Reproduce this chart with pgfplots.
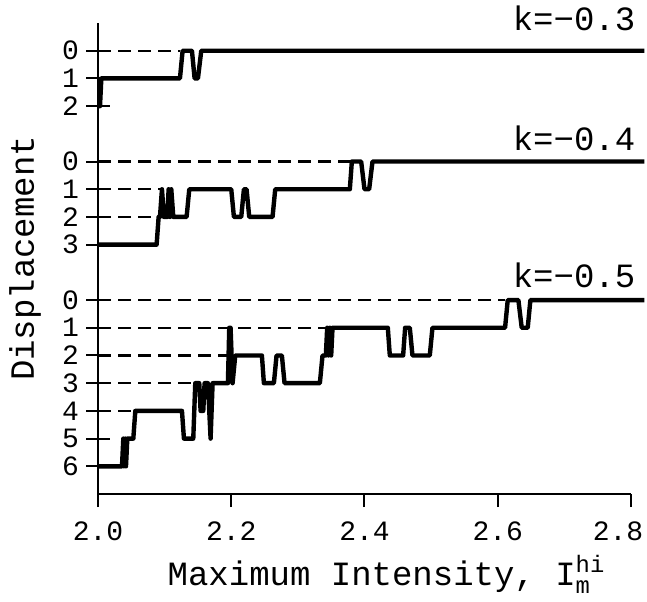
\documentclass[border=0pt]{standalone}
\usepackage{fontspec}
\setmainfont{Liberation Mono}
\usepackage{amsmath}
\usepackage{pgfplots}
\pgfplotsset{compat=1.18}

\begin{document}
\begin{tikzpicture}
\path[use as bounding box] (-49pt,-53.5pt) rectangle (274.5pt,247pt);
\begin{axis}[
  scale only axis, width=266.5pt, height=235.5pt,
  xmin=2, xmax=2.8, ymin=0, ymax=17,
  clip=false,
  axis x line*=bottom, axis y line*=left,
  axis line style={line width=1pt,-},
  xtick={2,2.2,2.4,2.6,2.8}, xticklabels={2.0,2.2,2.4,2.6,\kern-13pt 2.8},
  ytick={1,2,3,4,5,6,7,9,10,11,12,14,15,16},
  yticklabels={6,5,4,3,2,1,0,3,2,1,0,2,1,0},
  tick align=center, major tick length=12pt,
  tick style={line width=1pt, black},
  xtick style={/pgfplots/major tick length=6.5pt, yshift=-3.25pt},
  ticklabel style={font=\fontsize{14pt}{14pt}\selectfont},
  xticklabel style={anchor=base, yshift=-17pt},
  xlabel={Maximum Intensity, I$^{\text{hi}}_{\text{m}}$},
  ylabel={Displacement},
  every axis x label/.style={at={(axis description cs:0.5,0)}, anchor=base,
    yshift=-45.5pt, xshift=11pt, font=\fontsize{17pt}{17pt}\selectfont},
  every axis y label/.style={at={(axis description cs:0,0.5)}, xshift=-36.5pt,
    rotate=90, anchor=center, font=\fontsize{17pt}{17pt}\selectfont},
  dashline/.style={black, line width=1.2pt, dash pattern=on 6.5pt off 3.5pt},
  stepline/.style={black, line width=2.2pt, line join=round},
]
% guide lines, drawn first
\addplot[dashline] coordinates {(2,16) (2.123,16)};
\addplot[dashline] coordinates {(2,12) (2.378,12)};
\addplot[dashline] coordinates {(2,11) (2.096,11)};
\addplot[dashline] coordinates {(2,10) (2.091,10)};
\addplot[dashline] coordinates {(2,7) (2.611,7)};
\addplot[dashline] coordinates {(2,6) (2.344,6)};
\addplot[dashline] coordinates {(2,5) (2.200,5)};
\addplot[dashline] coordinates {(2,4) (2.146,4)};
\addplot[dashline] coordinates {(2,3) (2.056,3)};

% k = -0.3
\addplot[stepline] coordinates {
  (2.000,14) (2.003,14) (2.005,15) (2.123,15) (2.127,16) (2.141,16)
  (2.145,15) (2.150,15) (2.155,16) (2.82,16)};
% k = -0.4
\addplot[stepline] coordinates {
  (2.000,9) (2.088,9) (2.091,10) (2.093,10) (2.096,11) (2.099,10)
  (2.104,10) (2.106,11) (2.108,10) (2.110,11) (2.113,10) (2.133,10)
  (2.137,11) (2.200,11) (2.204,10) (2.215,10) (2.219,11) (2.223,11)
  (2.227,10) (2.262,10) (2.266,11) (2.378,11) (2.381,12) (2.395,12)
  (2.400,11) (2.407,11) (2.412,12) (2.82,12)};
% k = -0.5
\addplot[stepline] coordinates {
  (2.000,1) (2.036,1) (2.038,2) (2.039,1) (2.041,2) (2.042,1) (2.044,2)
  (2.053,2) (2.056,3) (2.126,3) (2.129,2) (2.143,2) (2.146,4) (2.152,4)
  (2.154,3) (2.158,3) (2.160,4) (2.165,4) (2.169,2) (2.172,4) (2.195,4)
  (2.197,6) (2.199,6) (2.202,4) (2.206,5) (2.246,5) (2.249,4) (2.264,4)
  (2.268,5) (2.276,5) (2.280,4) (2.333,4) (2.337,5) (2.342,5) (2.344,6)
  (2.346,5) (2.348,6) (2.350,5) (2.352,6) (2.435,6) (2.438,5) (2.458,5)
  (2.461,6) (2.468,6) (2.472,5) (2.498,5) (2.502,6) (2.611,6) (2.615,7)
  (2.631,7) (2.636,6) (2.645,6) (2.649,7) (2.82,7)};

\node[anchor=base east, font=\fontsize{17pt}{17pt}\selectfont, yshift=10pt] at (axis cs:2.817,16) {k=−0.3};
\node[anchor=base east, font=\fontsize{17pt}{17pt}\selectfont, yshift=5.5pt] at (axis cs:2.817,12) {k=−0.4};
\node[anchor=base east, font=\fontsize{17pt}{17pt}\selectfont, yshift=6.5pt] at (axis cs:2.817,7) {k=−0.5};
\end{axis}
\end{tikzpicture}
\end{document}
